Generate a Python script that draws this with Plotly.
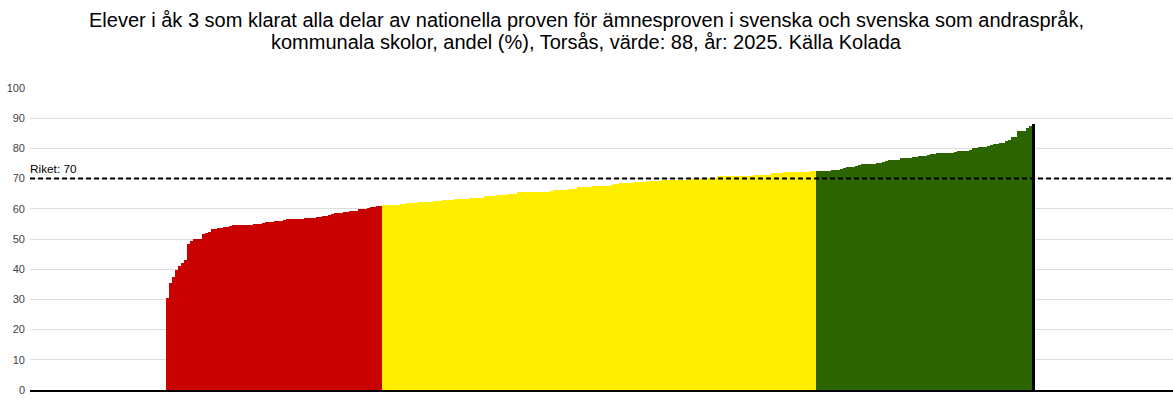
import plotly.graph_objects as go

title_lines = [
    "Elever i åk 3 som klarat alla delar av nationella proven för ämnesproven i svenska och svenska som andraspråk,",
    "kommunala skolor, andel (%), Torsås, värde: 88, år: 2025. Källa Kolada",
]

# Sorted municipality values (%), grouped by colour class
red_values = [30.5, 35.3, 37.3, 39.7, 41.0, 42.0, 43.0, 48.3, 49.3, 50.0, 50.0, 50.0,
              51.7, 52.1, 52.3, 53.3, 53.3, 53.6, 53.6, 54.0, 54.0, 54.3,
              54.6, 54.6, 54.6, 54.6, 54.6, 54.6, 54.6, 55.0, 55.0, 55.0, 55.3,
              55.6, 55.6, 55.6, 56.0, 56.0, 56.0, 56.3,
              56.6, 56.6, 56.6, 56.6, 56.6, 56.6, 56.9, 56.9, 56.9, 56.9,
              57.3, 57.3, 57.6, 57.6, 57.9, 58.3, 58.6, 58.6, 58.6, 58.9, 58.9,
              59.3, 59.3, 59.3, 59.9, 59.9, 59.9, 60.3, 60.6, 60.6, 60.9, 60.9]

yellow_values = [61.2, 61.2, 61.4, 61.4, 61.4, 61.4, 61.6, 61.6, 61.9, 61.9, 61.9, 61.9,
                 62.3, 62.3, 62.3, 62.3, 62.3, 62.5, 62.5, 62.5, 62.9, 62.9, 62.9, 62.9,
                 63.3, 63.3, 63.3, 63.3, 63.3, 63.7, 63.7, 63.7, 63.7, 63.7,
                 64.2, 64.2, 64.2, 64.2, 64.6, 64.6, 64.6, 64.6, 64.9, 64.9, 64.9,
                 65.5, 65.5, 65.5, 65.5, 65.5, 65.5,
                 65.7, 65.7, 65.7, 65.7, 65.7, 65.9, 66.2, 66.2, 66.2, 66.2, 66.2,
                 66.4, 66.4, 66.4, 67.1, 67.1, 67.1, 67.1, 67.1,
                 67.6, 67.6, 67.6, 67.6, 67.6, 67.6, 67.9, 68.3, 68.3,
                 68.5, 68.5, 68.5, 68.5, 68.5, 68.9, 68.9, 68.9, 68.9,
                 69.2, 69.2, 69.2, 69.2, 69.2,
                 69.5, 69.5, 69.5, 69.5, 69.5, 69.5, 69.5, 69.5, 69.5, 69.5,
                 69.8, 69.8, 69.8, 69.8, 70.1, 70.1, 70.1, 70.1, 70.1,
                 70.9, 70.9, 70.9, 70.9, 70.9, 70.9, 70.9, 70.9, 70.9, 70.9, 70.9, 70.9,
                 71.2, 71.2, 71.2, 71.2, 71.2, 71.2, 71.7, 71.7, 71.7, 71.7,
                 72.2, 72.2, 72.2, 72.2, 72.2, 72.2, 72.2, 72.2, 72.2, 72.5, 72.5]

green_values = [72.5, 72.5, 72.5, 72.5, 72.5, 72.9, 72.9, 72.9, 73.2, 73.5,
                73.8, 73.8, 73.8, 74.2, 74.5, 74.8, 74.8, 74.8, 74.8, 74.8,
                75.2, 75.2, 75.5, 75.8, 76.2, 76.2, 76.2, 76.2,
                76.8, 76.8, 76.8, 76.8, 77.2, 77.2, 77.5, 77.5, 77.5, 77.8,
                78.0, 78.3, 78.5, 78.5, 78.5, 78.5, 78.5, 78.5, 78.8,
                79.1, 79.1, 79.1, 79.1, 79.6, 80.0, 80.0, 80.5, 80.5, 80.5,
                80.8, 81.1, 81.5, 81.5, 81.8, 81.8, 82.5, 82.9, 83.8, 83.8,
                85.8, 85.8, 85.8, 86.6, 87.4]

highlight_name = "Torsås"
highlight_value = 88
riket_value = 70
y_ticks = [0, 10, 20, 30, 40, 50, 60, 70, 80, 90, 100]

RED = "#C80000"
YELLOW = "#FFEE00"
GREEN = "#2C6400"
BLACK = "#000000"
FONT = "Liberation Sans, Arial, sans-serif"

fig = go.Figure()
start = 0
for vals, col, name in [(red_values, RED, "Låg"), (yellow_values, YELLOW, "Mellan"),
                        (green_values, GREEN, "Hög")]:
    xs = list(range(start, start + len(vals)))
    fig.add_trace(go.Bar(x=xs, y=vals, marker=dict(color=col, line=dict(width=0)),
                         width=1, name=name, showlegend=False))
    start += len(vals)

fig.add_trace(go.Bar(x=[start], y=[highlight_value], width=1,
                     marker=dict(color=BLACK, line=dict(width=0)),
                     name=highlight_name, showlegend=False))

fig.add_shape(type="line", xref="paper", x0=0, x1=1, yref="y", y0=riket_value, y1=riket_value,
              line=dict(color="black", width=2, dash="5px,3px"), layer="above")
fig.add_annotation(xref="paper", x=0, y=riket_value, yref="y", text=f"Riket: {riket_value}",
                   showarrow=False, xanchor="left", yanchor="bottom", yshift=1, xshift=-2,
                   font=dict(family=FONT, size=11.8, color="black"))

# Title lines as centred annotations (pixel placement via yshift from plot top)
for i, line in enumerate(title_lines):
    fig.add_annotation(xref="paper", yref="paper", x=(586.5 - 30) / 1143, y=1,
                       xanchor="center", yanchor="middle", yshift=88 - (20 + 21.5 * i),
                       text=line, showarrow=False,
                       font=dict(family=FONT, size=20, color="black"))

fig.update_layout(
    width=1173, height=400,
    margin=dict(l=30, r=0, t=88, b=10),
    paper_bgcolor="white", plot_bgcolor="white",
    bargap=0,
    font=dict(family=FONT, color="#333333"),
    xaxis=dict(range=[-45.88, 335.5], showticklabels=False, showgrid=False, zeroline=False,
               showline=True, linecolor="black", linewidth=1.5, ticks=""),
    yaxis=dict(range=[0, 100], tickvals=y_ticks, showgrid=True, gridcolor="#dddddd", gridwidth=1,
               zeroline=False, ticks="", ticklabelstandoff=4,
               tickfont=dict(family=FONT, size=11, color="#444444")),
)

fig.write_html("out.html", config={"displayModeBar": False},
               post_script="document.body.style.margin='0';")
